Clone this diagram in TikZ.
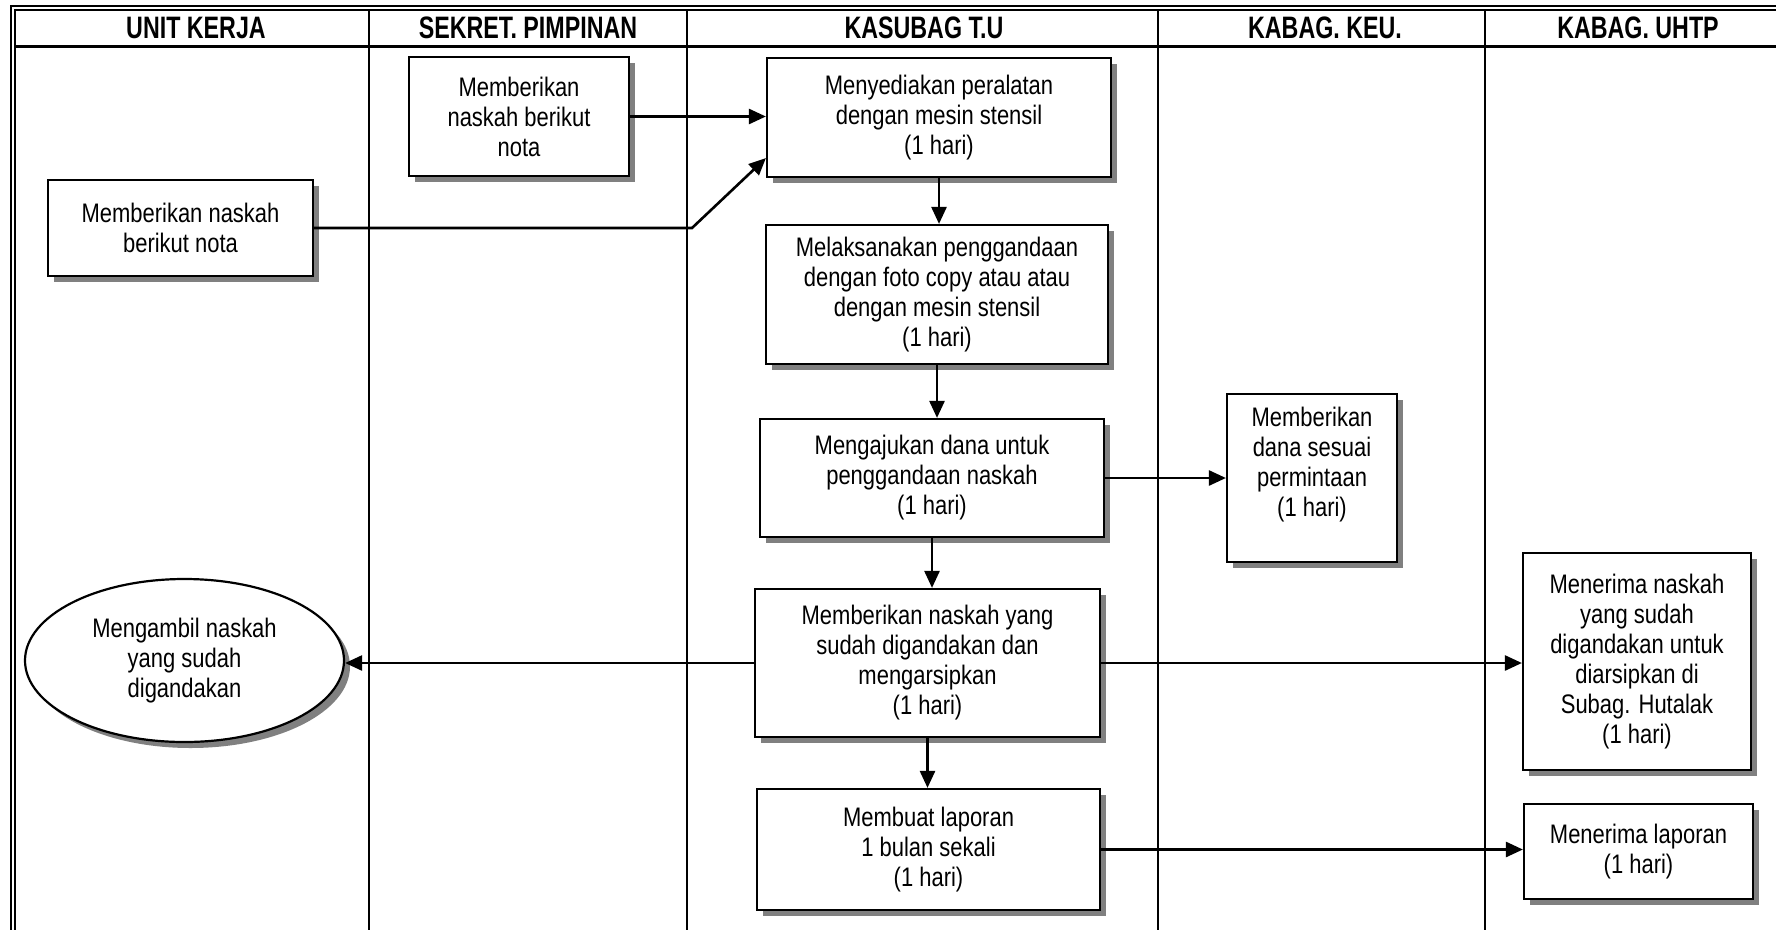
\documentclass[tikz,border=0pt]{standalone}
\usepackage{fontspec}
\setmainfont{Liberation Sans}[FakeStretch=0.82,BoldFeatures={FakeStretch=0.75}]
\usetikzlibrary{arrows.meta,shapes.geometric,shadows}
\newcommand\txtsize{\fontsize{26.8}{30}\selectfont}
\newcommand\headsize{\fontsize{31}{32}\selectfont\bfseries}
\begin{document}
\begin{tikzpicture}[x=1pt,y=-1pt,
  frame/.style={line width=2.2pt},
  lane/.style={line width=2.6pt},
  head/.style={font=\headsize, inner sep=0pt},
  shade/.style={drop shadow={shadow xshift=6pt, shadow yshift=-6pt, fill=black!50, opacity=1}},
  box/.style={draw, line width=2.2pt, fill=white, align=center, inner sep=0pt, font=\txtsize, shade},
  oval/.style={box, ellipse},
  arr/.style={line width=2.6pt, -{Triangle[length=17pt,width=15pt]}}]
\useasboundingbox (0,0) rectangle (1776,929);

% double outer frame
\draw[frame] (11,940) -- (11,5.8) -- (1790,5.8);
\draw[frame] (15,940) -- (15,9.6) -- (1790,9.6);
% header rule and lane separators
\draw[line width=3pt] (15,46) -- (1790,46);
\foreach \x in {369,687,1158,1485} \draw[lane] (\x,9.6) -- (\x,940);

% lane titles
\node[head] (t1) at (196,28) {UNIT KERJA};
\node[head] (t2) at (528,28) {SEKRET. PIMPINAN};
\node[head] (t3) at (924,28) {KASUBAG T.U};
\node[head] (t4) at (1325,28) {KABAG. KEU.};
\node[head] (t5) at (1638,28) {KABAG. UHTP};

% process steps
\node[box, minimum width=220pt, minimum height=119pt] (a) at (519,116.5)
  {Memberikan\\naskah berikut\\nota};
\node[box, minimum width=344pt, minimum height=119pt] (b) at (939,117.5)
  {Menyediakan peralatan\\dengan mesin stensil\\(1 hari)};
\node[box, minimum width=265pt, minimum height=96pt] (c) at (180.5,228)
  {Memberikan naskah\\berikut nota};
\node[box, minimum width=342pt, minimum height=139pt] (d) at (937,294.5)
  {Melaksanakan penggandaan\\dengan foto copy atau atau\\dengan mesin stensil\\(1 hari)};
\node[box, minimum width=344pt, minimum height=118pt] (e) at (932,478)
  {Mengajukan dana untuk\\penggandaan naskah\\(1 hari)};
\node[box, minimum width=170pt, minimum height=168pt] (f) at (1312,478) {};
\node[font=\txtsize, align=center, inner sep=0pt, anchor=north] (ft) at ([yshift=-14pt]f.north)
  {Memberikan\\dana sesuai\\permintaan\\(1 hari)};
\node[box, minimum width=345pt, minimum height=148pt] (g) at (927.5,663)
  {Memberikan naskah yang\\sudah digandakan dan\\mengarsipkan\\(1 hari)};
\node[oval, minimum width=319pt, minimum height=163pt] (h) at (184.5,660.5)
  {Mengambil naskah\\yang sudah\\digandakan};
\node[box, minimum width=228pt, minimum height=217pt] (i) at (1637,661.5)
  {Menerima naskah\\yang sudah\\digandakan untuk\\diarsipkan di\\Subag. Hutalak\\(1 hari)};
\node[box, minimum width=343pt, minimum height=121pt] (j) at (928.5,849.5)
  {Membuat laporan\\1 bulan sekali\\(1 hari)};
\node[box, minimum width=229pt, minimum height=95pt] (k) at (1638.5,851.5)
  {Menerima laporan\\(1 hari)};

% connectors
\coordinate (cbend) at (692,0);
\draw[arr] (a.east) -- (a.east -| b.west);
\draw[arr] (c.east) -- (c.east -| cbend) -- ([yshift=20pt]b.south west);
\draw[arr] (b.south) -- (b.south |- d.north);
\draw[arr] (d.south) -- (d.south |- e.north);
\draw[arr] (e.east) -- (e.east -| f.west);
\draw[arr] (e.south) -- (e.south |- g.north);
\draw[arr] (g.west) -- (g.west -| h.east);
\draw[arr] (g.east) -- (g.east -| i.west);
\draw[arr] (g.south) -- (g.south |- j.north);
\draw[arr] (j.east) -- (j.east -| k.west);
\end{tikzpicture}
\end{document}
